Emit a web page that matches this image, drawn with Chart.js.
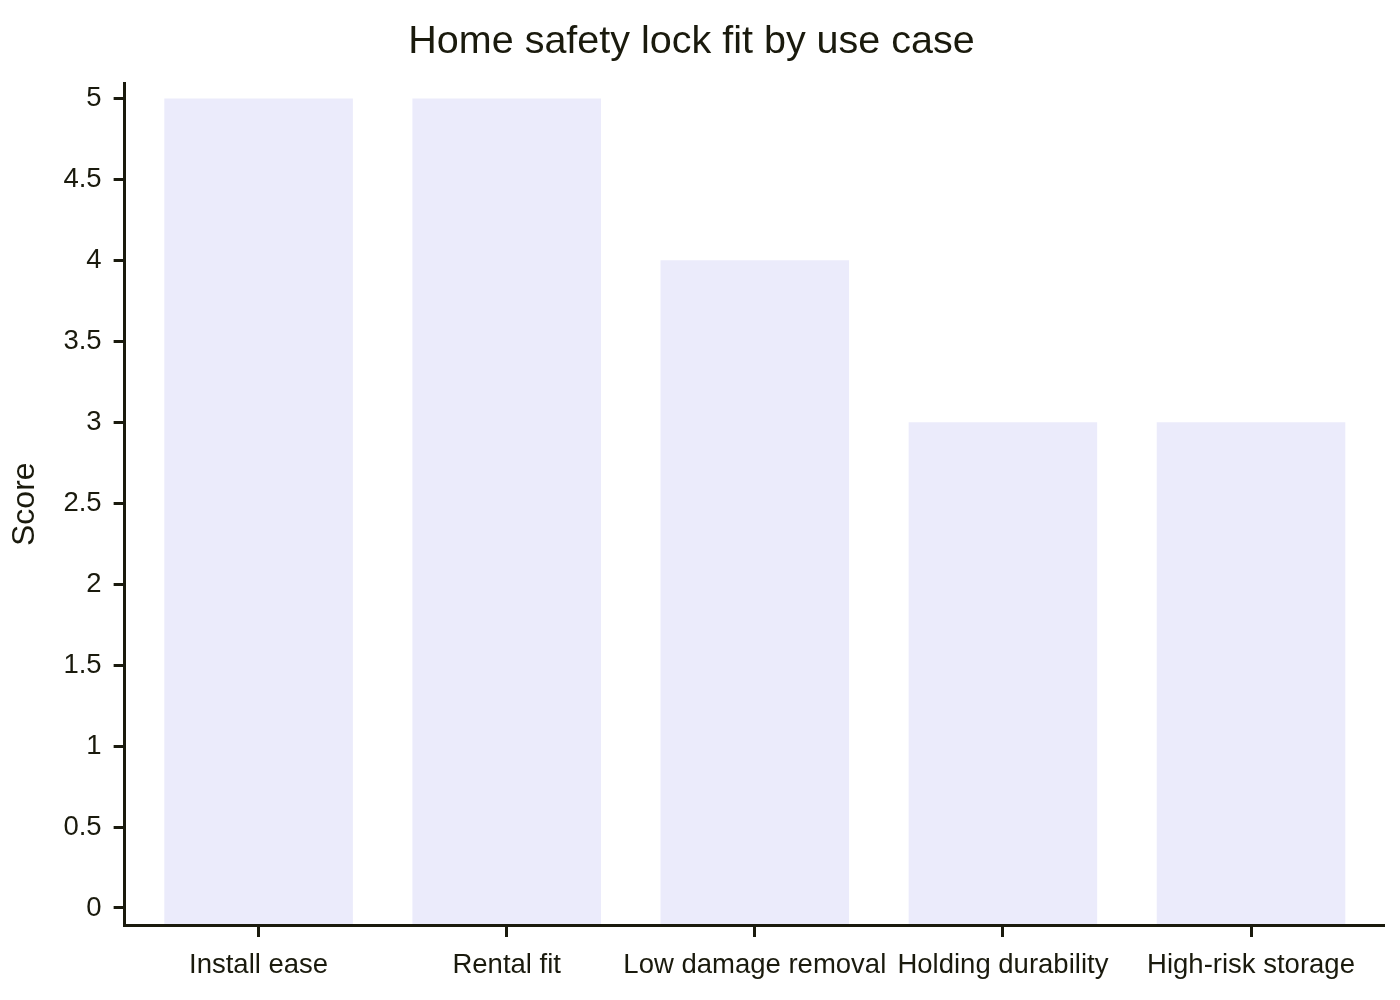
<!DOCTYPE html>
<html>
<head>
<meta charset="utf-8">
<script src="https://cdn.jsdelivr.net/npm/chart.js@4.4.1/dist/chart.umd.min.js"></script>
<style>
html,body{margin:0;padding:0;background:#fff;}
#wrap{width:1400px;height:1000px;}
</style>
</head>
<body>
<div id="wrap"><canvas id="lockChart" width="1400" height="1000"></canvas></div>
<script>
const categories = ['Install ease', 'Rental fit', 'Low damage removal', 'Holding durability', 'High-risk storage'];
const scores = [5, 5, 4, 3, 3];
const yTicks = [0, 0.5, 1, 1.5, 2, 2.5, 3, 3.5, 4, 4.5, 5];

const ink = '#1a1a0d';
const barFill = '#ebebfb';

// axes sit a little away from the data, like the original
const yMin = -0.105;
const yMax = 5.093;

const points = scores.map((v, i) => ({ x: i, y: v }));

const ctx = document.getElementById('lockChart').getContext('2d');

new Chart(ctx, {
  type: 'bar',
  data: {
    datasets: [{
      label: 'Score',
      data: points,
      backgroundColor: barFill,
      borderWidth: 0,
      base: yMin,
      categoryPercentage: 1,
      barPercentage: 0.76
    }]
  },
  options: {
    responsive: false,
    animation: false,
    devicePixelRatio: 1,
    layout: {
      padding: { left: 0, right: 17, top: 0, bottom: 6 }
    },
    plugins: {
      legend: { display: false },
      tooltip: { enabled: false },
      title: {
        display: true,
        text: 'Home safety lock fit by use case',
        color: ink,
        font: { family: 'Liberation Sans', size: 39.5, weight: 'normal' },
        padding: { top: 18, bottom: 18 }
      }
    },
    scales: {
      x: {
        type: 'linear',
        min: -0.54,
        max: 4.532,
        offset: false,
        afterBuildTicks: scale => {
          scale.ticks = categories.map((c, i) => ({ value: i }));
        },
        ticks: {
          color: ink,
          font: { family: 'Liberation Sans', size: 27.5 },
          padding: 12,
          maxRotation: 0,
          autoSkip: false,
          callback: value => categories[value]
        },
        grid: {
          offset: false,
          drawOnChartArea: false,
          drawTicks: true,
          tickLength: 12,
          color: ink,
          lineWidth: 3,
          z: 1
        },
        border: { display: true, color: ink, width: 3, z: 1 }
      },
      y: {
        type: 'linear',
        min: yMin,
        max: yMax,
        afterBuildTicks: scale => {
          scale.ticks = yTicks.map(v => ({ value: v }));
        },
        ticks: {
          color: ink,
          font: { family: 'Liberation Sans', size: 27.5 },
          padding: 12,
          callback: value => String(value)
        },
        grid: {
          drawOnChartArea: false,
          drawTicks: true,
          tickLength: 11,
          color: ink,
          lineWidth: 3,
          z: 1
        },
        border: { display: true, color: ink, width: 3, z: 1 },
        title: {
          display: true,
          text: 'Score',
          color: ink,
          font: { family: 'Liberation Sans', size: 32 },
          padding: { top: 6, bottom: 7 }
        }
      }
    }
  }
});
</script>
</body>
</html>
